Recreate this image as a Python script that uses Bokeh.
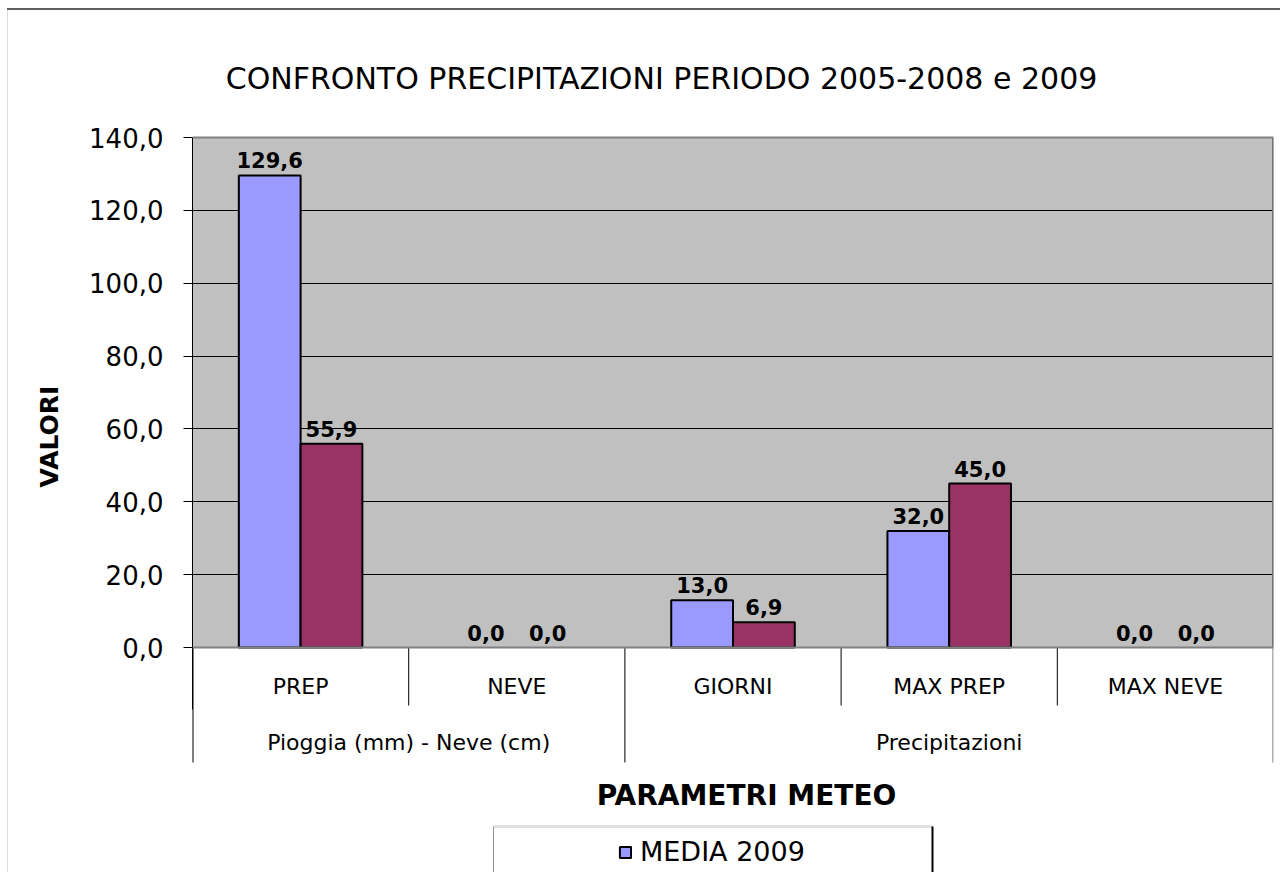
import numpy as np
from bokeh.plotting import figure
from bokeh.models import (FactorRange, Range1d, LinearAxis, FixedTicker, ColumnDataSource,
                          BoxAnnotation, Span, Legend, LegendItem)
from bokeh.transform import dodge
from bokeh.core.properties import value
from bokeh.embed import file_html
from bokeh.resources import INLINE

# ---------------- data ----------------
categories = ["PREP", "NEVE", "GIORNI", "MAX PREP", "MAX NEVE"]
groups = ["Pioggia (mm) - Neve (cm)", "Pioggia (mm) - Neve (cm)",
          "Precipitazioni", "Precipitazioni", "Precipitazioni"]
media_2009 = [129.6, 0.0, 13.0, 32.0, 0.0]
media_2005_2008 = [55.9, 0.0, 6.9, 45.0, 0.0]
y_ticks = [0, 20, 40, 60, 80, 100, 120, 140]
series_names = ["MEDIA 2009", "MEDIA 2005-2008"]
title_text = "CONFRONTO PRECIPITAZIONI PERIODO 2005-2008 e 2009"
x_title = "PARAMETRI METEO"
y_title = "VALORI"

# ---------------- layout (canvas pixels) ----------------
FONT_NAME = "DejaVu Sans"
FONT = value(FONT_NAME)
W, H = 1280, 872
PLOT_LEFT = 192        # x of plot area left edge
PLOT_RIGHT = 1273      # x of plot area right edge
PLOT_TOP = 137         # y of top value
PLOT_BOTTOM = 647      # y of zero
y_max = y_ticks[-1]
ppu = (PLOT_BOTTOM - PLOT_TOP) / y_max
y_hi = y_max + PLOT_TOP / ppu
y_lo = -(H - PLOT_BOTTOM) / ppu
ncat = len(categories)
cat_px = (PLOT_RIGHT - PLOT_LEFT) / ncat
mid_px = PLOT_LEFT + cat_px * ncat / 2


def fmt(v):
    return f"{v:.1f}".replace(".", ",")


p = figure(width=W, height=H, x_range=FactorRange(*categories),
           y_range=Range1d(y_lo, y_hi), output_backend="svg", toolbar_location=None,
           x_axis_location=None, y_axis_location=None,
           min_border_left=PLOT_LEFT, min_border_right=W - PLOT_RIGHT,
           min_border_top=0, min_border_bottom=0)
p.outline_line_color = None
p.background_fill_alpha = 0
p.border_fill_alpha = 0
# outer chart border (top dark line, left light line)
p.styles = {"background": "linear-gradient(#5f5f5f, #5f5f5f) 7px 8px / 1273px 2px no-repeat, "
                          "linear-gradient(#dcdcdc, #dcdcdc) 7px 10px / 1px 862px no-repeat, #ffffff"}
p.xgrid.grid_line_color = None
p.ygrid.ticker = FixedTicker(ticks=y_ticks[1:-1])
p.ygrid.grid_line_color = "black"
p.ygrid.grid_line_width = 1

# gray plot area (drawn first, under the grid)
plot_bg = BoxAnnotation(left=0, right=ncat, bottom=0, top=y_max, fill_color="#C0C0C0",
                        fill_alpha=1, line_color=None, level="underlay")
p.center.insert(0, plot_bg)

# y axis
short_px, long_px = 58, 115
yaxis = LinearAxis(ticker=FixedTicker(ticks=y_ticks),
                   major_label_overrides={t: fmt(t) for t in y_ticks},
                   bounds=(-17.0, y_max))
yaxis.axis_line_color = "black"
yaxis.axis_line_width = 1
yaxis.major_tick_out = 9
yaxis.major_tick_in = 0
yaxis.major_tick_line_color = "black"
yaxis.minor_tick_line_color = None
yaxis.major_label_standoff = 20
yaxis.major_label_text_font = FONT_NAME
yaxis.major_label_text_font_size = "26px"
yaxis.major_label_text_color = "black"
yaxis.axis_label = y_title
yaxis.axis_label_text_font = FONT_NAME
yaxis.axis_label_text_font_size = "25px"
yaxis.axis_label_text_font_style = "bold"
yaxis.axis_label_text_color = "black"
yaxis.axis_label_standoff = 22
p.add_layout(yaxis, "left")

# bars
bw = 1 / 3.5
src = ColumnDataSource(dict(
    cat=categories, a=media_2009, b=media_2005_2008,
    la=[fmt(v) for v in media_2009], lb=[fmt(v) for v in media_2005_2008],
    aa=[1 if v > 0 else 0 for v in media_2009], ab=[1 if v > 0 else 0 for v in media_2005_2008]))
r1 = p.vbar(x=dodge("cat", -bw / 2, range=p.x_range), top="a", width=bw, source=src,
            fill_color="#9999FF", line_color="black", line_width=2, line_alpha="aa")
r2 = p.vbar(x=dodge("cat", bw / 2, range=p.x_range), top="b", width=bw, source=src,
            fill_color="#993366", line_color="black", line_width=2, line_alpha="ab")
for ycol, tcol, off in (("a", "la", -bw / 2), ("b", "lb", bw / 2)):
    p.text(x=dodge("cat", off, range=p.x_range), y=ycol, text=tcol, source=src,
           text_align="center", text_baseline="alphabetic",
           y_offset=-15, text_font=FONT, text_font_size="21px", text_font_style="bold",
           text_color="black")

# plot area borders
p.add_layout(Span(location=0, dimension="width", line_color="#808080", line_width=2))
p.add_layout(Span(location=y_max, dimension="width", line_color="#808080", line_width=2))
p.segment(x0=[ncat], y0=[0], x1=[ncat], y1=[y_max], line_color="#707070", line_width=3)

# category separators
sx, sy1 = [], []
for i in range(1, ncat):
    sx.append(i)
    sy1.append(-(long_px if groups[i] != groups[i - 1] else short_px) / ppu)
p.segment(x0=sx, y0=[0] * len(sx), x1=sx, y1=sy1, line_color="black", line_width=1)
p.segment(x0=[0], y0=[0], x1=[0], y1=[-long_px / ppu], line_color="black", line_width=2)
p.segment(x0=[ncat], y0=[0], x1=[ncat], y1=[-long_px / ppu], line_color="#B0B0B0", line_width=3)

# category labels
p.text(x=categories, y=[0] * ncat, text=categories, y_offset=39, text_align="center",
       text_baseline="middle", text_font=FONT, text_font_size="22px", text_color="black")
# group labels
gnames, gcent = [], []
start = 0
for i in range(1, ncat + 1):
    if i == ncat or groups[i] != groups[start]:
        gnames.append(groups[start])
        gcent.append((start + i) / 2)
        start = i
p.text(x=gcent, y=[0] * len(gcent), text=gnames, y_offset=95, text_align="center",
       text_baseline="middle", text_font=FONT, text_font_size="22px", text_color="black")

# titles
p.text(x=[ncat / 2], y=[y_max], text=[title_text], x_offset=661 - mid_px, y_offset=78 - PLOT_TOP,
       text_align="center", text_baseline="middle", text_font=FONT, text_font_size="30px",
       text_color="black")
p.text(x=[ncat / 2], y=[0], text=[x_title], x_offset=746 - mid_px, y_offset=795 - PLOT_BOTTOM,
       text_align="center", text_baseline="middle", text_font=FONT, text_font_size="28px",
       text_font_style="bold", text_color="black")

# legend box
lb_left = (493 - PLOT_LEFT) / cat_px
lb_right = (932 - PLOT_LEFT) / cat_px
lb_top = (PLOT_BOTTOM - 826) / ppu
p.add_layout(BoxAnnotation(left=lb_left, right=lb_right, top=lb_top, bottom=y_lo - 5,
                           fill_color="white", fill_alpha=1, line_color=None, level="underlay"))
p.segment(x0=[lb_left], y0=[lb_top], x1=[lb_right], y1=[lb_top], line_color="#E0E0E0", line_width=3)
p.segment(x0=[lb_left], y0=[lb_top], x1=[lb_left], y1=[y_lo], line_color="#909090", line_width=1)
p.segment(x0=[lb_right], y0=[lb_top], x1=[lb_right], y1=[y_lo], line_color="black", line_width=2)

legend = Legend(items=[LegendItem(label=series_names[0], renderers=[r1])],
                location=(618 - PLOT_LEFT, 5), padding=0, margin=0, spacing=0,
                glyph_width=14, glyph_height=14, label_standoff=8,
                label_text_font=FONT_NAME, label_text_font_size="27px", label_text_color="black",
                border_line_alpha=0, background_fill_alpha=0)
p.add_layout(legend)

open("out.html", "w").write(file_html(p, INLINE))
